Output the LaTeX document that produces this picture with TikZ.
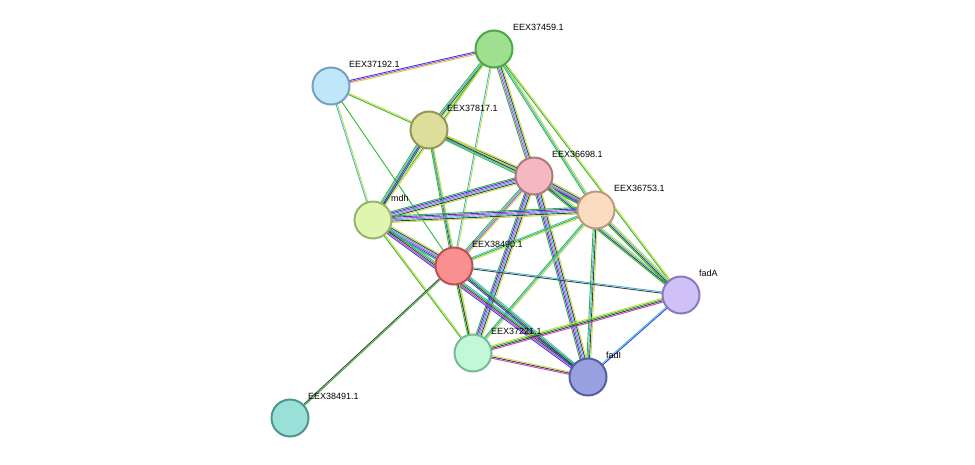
\documentclass[tikz,border=0pt]{standalone}
\usepackage{fontspec}
\setmainfont{Liberation Sans}
\usetikzlibrary{calc}
\definecolor{cG}{HTML}{2FB82F}
\definecolor{cB}{HTML}{3040E0}
\definecolor{cM}{HTML}{D040D0}
\definecolor{cC}{HTML}{40B8D8}
\definecolor{cK}{HTML}{404040}
\definecolor{cY}{HTML}{C4DC40}
\tikzset{
 prot/.style={circle,minimum size=37pt,inner sep=0pt,line width=2pt},
 lab/.style={font=\fontsize{9}{10}\selectfont,anchor=west,inner sep=0pt},
}
\newcommand\edg[3]{%
 \foreach \c [count=\i] in {#3} {\xdef\nn{\i}}%
 \foreach \c [count=\i] in {#3} {%
   \pgfmathsetmacro\o{(\i-(\nn+1)/2)*1.3}%
   \draw[\c,line width=0.9pt] ($(#1)!\o pt!90:(#2)$) -- ($(#2)!\o pt!-90:(#1)$);}}
\begin{document}
\begin{tikzpicture}[x=1pt,y=-1pt]
\useasboundingbox (0,0) rectangle (975,464);
\coordinate (a) at (494,49);
\coordinate (b) at (331,86);
\coordinate (c) at (429,130);
\coordinate (d) at (534,176);
\coordinate (e) at (596,210);
\coordinate (f) at (373,220);
\coordinate (g) at (454,266);
\coordinate (h) at (681,295);
\coordinate (i) at (473,353);
\coordinate (j) at (588,377);
\coordinate (k) at (290,418);
\edg{a}{b}{cB,cM,cY}
\edg{a}{c}{cG,cC,cK,cY}
\edg{a}{d}{cG,cM,cC,cK,cY}
\edg{a}{e}{cG,cC,cY}
\edg{a}{f}{cG,cY}
\edg{a}{g}{cC,cY}
\edg{a}{h}{cG,cY}
\edg{b}{c}{cG,cY}
\edg{b}{f}{cC,cY}
\edg{b}{g}{cG}
\edg{c}{d}{cG,cC,cK,cY}
\edg{c}{e}{cG,cC,cK,cY}
\edg{c}{f}{cG,cC,cK,cB,cY}
\edg{c}{g}{cG,cK,cY}
\edg{c}{i}{cC,cY}
\edg{d}{e}{cG,cB,cM,cC,cK,cY}
\edg{d}{f}{cG,cB,cM,cC,cK,cY}
\edg{d}{g}{cG,cC,cM,cY}
\edg{d}{i}{cG,cB,cM,cC,cK,cY}
\edg{d}{j}{cG,cB,cM,cC,cK,cY}
\edg{d}{h}{cG,cK,cC,cY}
\edg{e}{f}{cG,cB,cM,cC,cK,cY}
\edg{e}{g}{cC,cG,cY}
\edg{e}{i}{cG,cC,cY}
\edg{e}{j}{cG,cC,cK,cY}
\edg{e}{h}{cG,cK,cC,cY}
\edg{f}{g}{cG,cB,cM,cC,cK,cY}
\edg{f}{i}{cG,cY}
\edg{f}{j}{cB,cM,cK,cG,cC}
\edg{g}{k}{cK,cG}
\edg{g}{i}{cG,cK,cY}
\edg{g}{j}{cB,cK,cG,cC}
\edg{g}{h}{cK,cC}
\edg{i}{h}{cM,cK,cG,cY}
\edg{i}{j}{cM,cK,cY}
\edg{j}{h}{cB,cC}
\node[prot,fill=green!45!lime!40,draw=green!50!black!70,fill={rgb,255:red,159;green,223;blue,144}] (na) at (a) {};
\node[prot,fill={rgb,255:red,192;green,230;blue,250},draw={rgb,255:red,120;green,160;blue,190}] (nb) at (b) {};
\node[prot,fill={rgb,255:red,222;green,222;blue,154},draw={rgb,255:red,150;green,150;blue,90}] (nc) at (c) {};
\node[prot,fill={rgb,255:red,245;green,184;blue,192},draw={rgb,255:red,170;green,120;blue,125}] (nd) at (d) {};
\node[prot,fill={rgb,255:red,252;green,220;blue,192},draw={rgb,255:red,190;green,155;blue,120}] (ne) at (e) {};
\node[prot,fill={rgb,255:red,224;green,245;blue,176},draw={rgb,255:red,150;green,180;blue,110}] (nf) at (f) {};
\node[prot,fill={rgb,255:red,248;green,144;blue,144},draw={rgb,255:red,190;green,80;blue,80}] (ng) at (g) {};
\node[prot,fill={rgb,255:red,208;green,192;blue,248},draw={rgb,255:red,140;green,120;blue,190}] (nh) at (h) {};
\node[prot,fill={rgb,255:red,192;green,248;blue,216},draw={rgb,255:red,120;green,185;blue,150}] (ni) at (i) {};
\node[prot,fill={rgb,255:red,152;green,160;blue,224},draw={rgb,255:red,85;green,95;blue,160}] (nj) at (j) {};
\node[prot,fill={rgb,255:red,152;green,224;blue,216},draw={rgb,255:red,80;green,150;blue,140}] (nk) at (k) {};
\node[lab] at ($(a)+(19,-22)$) {EEX37459.1};
\node[lab] at ($(b)+(18,-22)$) {EEX37192.1};
\node[lab] at ($(c)+(18,-22)$) {EEX37817.1};
\node[lab] at ($(d)+(18,-22)$) {EEX36698.1};
\node[lab] at ($(e)+(18,-22)$) {EEX36753.1};
\node[lab] at ($(f)+(18,-22)$) {mdh};
\node[lab] at ($(g)+(18,-22)$) {EEX38490.1};
\node[lab] at ($(h)+(18,-22)$) {fadA};
\node[lab] at ($(i)+(18,-22)$) {EEX37221.1};
\node[lab] at ($(j)+(18,-22)$) {fadI};
\node[lab] at ($(k)+(18,-22)$) {EEX38491.1};
\end{tikzpicture}
\end{document}
